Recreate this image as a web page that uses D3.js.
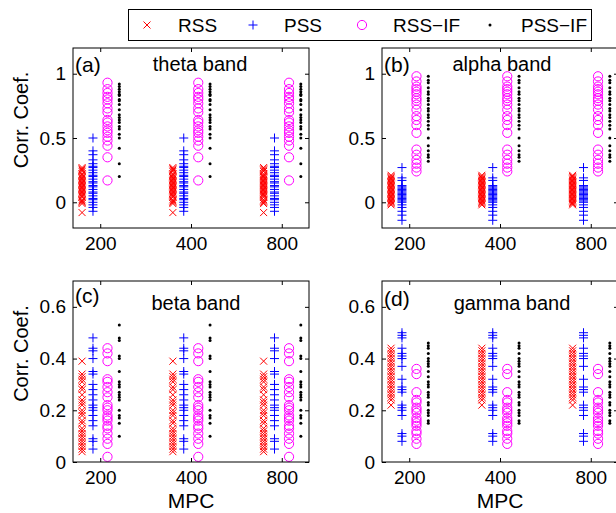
<!DOCTYPE html>
<html lang="en">
  <head>
    <meta charset="UTF-8" />
    <title>Corr. Coef. by band</title>
    <script src="https://d3js.org/d3.v7.min.js"></script>
    <style>
      body {
        margin: 0;
        background: white;
      }
      svg text {
        font-family: "Liberation Sans", Arial, sans-serif;
        fill: black;
      }
    </style>
  </head>
  <body>
    <div id="chart"></div>
    <script>
      // data (same values repeat at every MPC)
      const mpcLabels = ["200", "400", "800"];
      const seriesNames = ["RSS", "PSS", "RSS\u2212IF", "PSS\u2212IF"];

      const thetaRSS = [0.27, 0.26, 0.25, 0.24, 0.22, 0.21, 0.2, 0.19, 0.18, 0.17, 0.16, 0.15, 0.14, 0.13, 0.12, 0.11, 0.1, 0.09, 0.08, 0.07, 0.06, 0.05, 0.04, 0.02, 0.01, 0.0, -0.01, -0.08];
      const thetaPSS = [0.5, 0.4, 0.37, 0.33, 0.3, 0.28, 0.27, 0.25, 0.23, 0.21, 0.2, 0.18, 0.16, 0.15, 0.13, 0.12, 0.1, 0.08, 0.07, 0.05, 0.03, 0.02, 0.0, -0.02, -0.04, -0.07];
      const thetaRSSIF = [0.93, 0.88, 0.85, 0.82, 0.8, 0.77, 0.73, 0.7, 0.64, 0.62, 0.59, 0.56, 0.54, 0.51, 0.48, 0.44, 0.35, 0.17];
      const thetaPSSIF = [0.92, 0.9, 0.88, 0.86, 0.84, 0.83, 0.8, 0.79, 0.76, 0.72, 0.68, 0.66, 0.64, 0.62, 0.59, 0.57, 0.53, 0.5, 0.42, 0.3, 0.2];

      const alphaRSS = [0.21, 0.2, 0.19, 0.18, 0.17, 0.16, 0.15, 0.14, 0.13, 0.12, 0.11, 0.1, 0.09, 0.08, 0.07, 0.06, 0.05, 0.04, 0.03, 0.02, 0.01, 0.0, -0.01, -0.02];
      const alphaPSS = [0.27, 0.19, 0.17, 0.13, 0.12, 0.11, 0.1, 0.09, 0.08, 0.07, 0.06, 0.05, 0.04, 0.03, 0.02, 0.01, 0.0, -0.02, -0.04, -0.07, -0.1, -0.14];
      const alphaRSSIF = [0.98, 0.94, 0.9, 0.88, 0.86, 0.84, 0.81, 0.79, 0.76, 0.72, 0.67, 0.64, 0.6, 0.54, 0.41, 0.37, 0.33, 0.3, 0.27, 0.24];
      const alphaPSSIF = [0.98, 0.95, 0.93, 0.89, 0.86, 0.84, 0.81, 0.79, 0.76, 0.73, 0.71, 0.68, 0.66, 0.63, 0.6, 0.57, 0.5, 0.44, 0.4, 0.37, 0.35, 0.32];

      const betaRSS = [0.39, 0.34, 0.33, 0.32, 0.31, 0.29, 0.28, 0.26, 0.24, 0.23, 0.22, 0.2, 0.19, 0.18, 0.16, 0.15, 0.13, 0.12, 0.11, 0.1, 0.09, 0.08, 0.07, 0.06, 0.05, 0.04];
      const betaPSS = [0.48, 0.44, 0.43, 0.4, 0.35, 0.34, 0.3, 0.28, 0.26, 0.24, 0.22, 0.21, 0.2, 0.18, 0.16, 0.14, 0.09, 0.08, 0.05];
      const betaRSSIF = [0.44, 0.42, 0.39, 0.32, 0.31, 0.29, 0.27, 0.25, 0.22, 0.21, 0.2, 0.18, 0.17, 0.16, 0.14, 0.13, 0.11, 0.09, 0.07, 0.02];
      const betaPSSIF = [0.53, 0.48, 0.47, 0.41, 0.4, 0.35, 0.31, 0.3, 0.29, 0.27, 0.26, 0.25, 0.24, 0.2, 0.18, 0.17, 0.15, 0.1];

      const gammaRSS = [0.44, 0.43, 0.42, 0.41, 0.4, 0.39, 0.38, 0.37, 0.36, 0.35, 0.34, 0.33, 0.32, 0.31, 0.3, 0.29, 0.28, 0.27, 0.26, 0.25, 0.24, 0.22];
      const gammaPSS = [0.5, 0.49, 0.48, 0.44, 0.42, 0.41, 0.4, 0.37, 0.32, 0.29, 0.28, 0.27, 0.22, 0.21, 0.2, 0.18, 0.11, 0.1, 0.08];
      const gammaRSSIF = [0.36, 0.34, 0.27, 0.24, 0.23, 0.21, 0.2, 0.19, 0.17, 0.16, 0.15, 0.14, 0.12, 0.11, 0.09, 0.07];
      const gammaPSSIF = [0.46, 0.45, 0.44, 0.42, 0.4, 0.39, 0.38, 0.37, 0.35, 0.33, 0.31, 0.3, 0.29, 0.27, 0.26, 0.25, 0.23, 0.22, 0.2, 0.19, 0.18, 0.16, 0.15];

      const width = 616;
      const height = 513;
      const colors = ["#ff0000", "#0000ff", "#ff00ff", "#000000"];
      const offsets = [-0.2, -0.08, 0.08, 0.21];

      const panels = [
        { tag: "(a)", title: "theta band", series: [thetaRSS, thetaPSS, thetaRSSIF, thetaPSSIF],
          yDomain: [-0.2, 1.2], yTicks: [0, 0.5, 1], left: 73, top: 48, h: 180,
          titleX: 200, titleY: 71, tagY: 72, ylabel: true, xlabel: false },
        { tag: "(b)", title: "alpha band", series: [alphaRSS, alphaPSS, alphaRSSIF, alphaPSSIF],
          yDomain: [-0.2, 1.2], yTicks: [0, 0.5, 1], left: 382, top: 48, h: 180,
          titleX: 502, titleY: 71, tagY: 72, ylabel: false, xlabel: false },
        { tag: "(c)", title: "beta band", series: [betaRSS, betaPSS, betaRSSIF, betaPSSIF],
          yDomain: [0, 0.7], yTicks: [0, 0.2, 0.4, 0.6], left: 73, top: 281, h: 181,
          titleX: 196, titleY: 310, tagY: 303, ylabel: true, xlabel: true },
        { tag: "(d)", title: "gamma band", series: [gammaRSS, gammaPSS, gammaRSSIF, gammaPSSIF],
          yDomain: [0, 0.7], yTicks: [0, 0.2, 0.4, 0.6], left: 382, top: 281, h: 181,
          titleX: 512, titleY: 310, tagY: 306, ylabel: false, xlabel: true }
      ];
      const panelW = 236;
      const tickLen = 4;

      // marker drawers
      function drawMarker(sel, k) {
        if (k === 0) {
          sel.append("path").attr("d", "M-3.5,-3.5L3.5,3.5M-3.5,3.5L3.5,-3.5")
            .attr("stroke", colors[k]).attr("stroke-width", 1).attr("fill", "none");
        } else if (k === 1) {
          sel.append("path").attr("d", "M-4.5,0H4.5M0,-4.5V4.5")
            .attr("stroke", colors[k]).attr("stroke-width", 1).attr("fill", "none");
        } else if (k === 2) {
          sel.append("circle").attr("r", 4.6)
            .attr("stroke", colors[k]).attr("stroke-width", 1).attr("fill", "none");
        } else {
          sel.append("circle").attr("r", 1.5).attr("fill", colors[k]);
        }
      }

      const svg = d3.select("#chart").append("svg")
        .attr("width", width).attr("height", height);

      panels.forEach(function (p) {
        const x = d3.scaleLinear().domain([0.7, 3.3]).range([p.left, p.left + panelW]);
        const y = d3.scaleLinear().domain(p.yDomain).range([p.top + p.h, p.top]);
        const g = svg.append("g");

        // markers
        p.series.forEach(function (vals, k) {
          mpcLabels.forEach(function (m, i) {
            vals.forEach(function (v) {
              const mk = g.append("g")
                .attr("transform", "translate(" + x(i + 1 + offsets[k]) + "," + y(v) + ")");
              drawMarker(mk, k);
            });
          });
        });

        // box with inward ticks (matlab style)
        const fmt = d3.format("~g");
        const axL = d3.axisLeft(y).tickValues(p.yTicks).tickSizeInner(-tickLen).tickSizeOuter(0)
          .tickPadding(7).tickFormat(fmt);
        const axR = d3.axisRight(y).tickValues(p.yTicks).tickSizeInner(-tickLen).tickSizeOuter(0)
          .tickFormat("");
        const axB = d3.axisBottom(x).tickValues([1, 2, 3]).tickSizeInner(-tickLen).tickSizeOuter(0)
          .tickPadding(9).tickFormat(function (d) { return mpcLabels[d - 1]; });
        const axT = d3.axisTop(x).tickValues([1, 2, 3]).tickSizeInner(-tickLen).tickSizeOuter(0)
          .tickFormat("");

        g.append("g").attr("transform", "translate(" + p.left + ",0)").call(axL);
        g.append("g").attr("transform", "translate(" + (p.left + panelW) + ",0)").call(axR);
        g.append("g").attr("transform", "translate(0," + (p.top + p.h) + ")").call(axB);
        g.append("g").attr("transform", "translate(0," + p.top + ")").call(axT);
        g.selectAll(".domain").remove();
        g.selectAll(".tick line").attr("stroke", "black");
        g.selectAll(".tick text").attr("font-size", 19).attr("font-family", "Liberation Sans, Arial, sans-serif");

        g.append("rect")
          .attr("x", p.left).attr("y", p.top)
          .attr("width", panelW).attr("height", p.h)
          .attr("fill", "none").attr("stroke", "black").attr("stroke-width", 1);

        g.append("text").attr("x", p.left + 2).attr("y", p.tagY)
          .attr("font-size", 21).text(p.tag);
        g.append("text").attr("x", p.titleX).attr("y", p.titleY)
          .attr("text-anchor", "middle").attr("font-size", 20).text(p.title);

        if (p.ylabel) {
          g.append("text")
            .attr("transform", "translate(28," + (p.top + p.h / 2 - 18) + ") rotate(-90)")
            .attr("text-anchor", "middle").attr("font-size", 20).text("Corr. Coef.");
        }
        if (p.xlabel) {
          g.append("text").attr("x", p.left + panelW / 2).attr("y", p.top + p.h + 46)
            .attr("text-anchor", "middle").attr("font-size", 21).text("MPC");
        }
      });

      // legend
      const lg = svg.append("g");
      lg.append("rect").attr("x", 128.5).attr("y", 9.5).attr("width", 463).attr("height", 31)
        .attr("fill", "white").attr("stroke", "black").attr("stroke-width", 1);
      const legMarkX = [147, 253, 362, 490];
      seriesNames.forEach(function (name, k) {
        const mk = lg.append("g").attr("transform", "translate(" + legMarkX[k] + ",25)");
        drawMarker(mk, k);
        lg.append("text").attr("x", legMarkX[k] + 31).attr("y", 32)
          .attr("font-size", 19).text(name);
      });
    </script>
  </body>
</html>
